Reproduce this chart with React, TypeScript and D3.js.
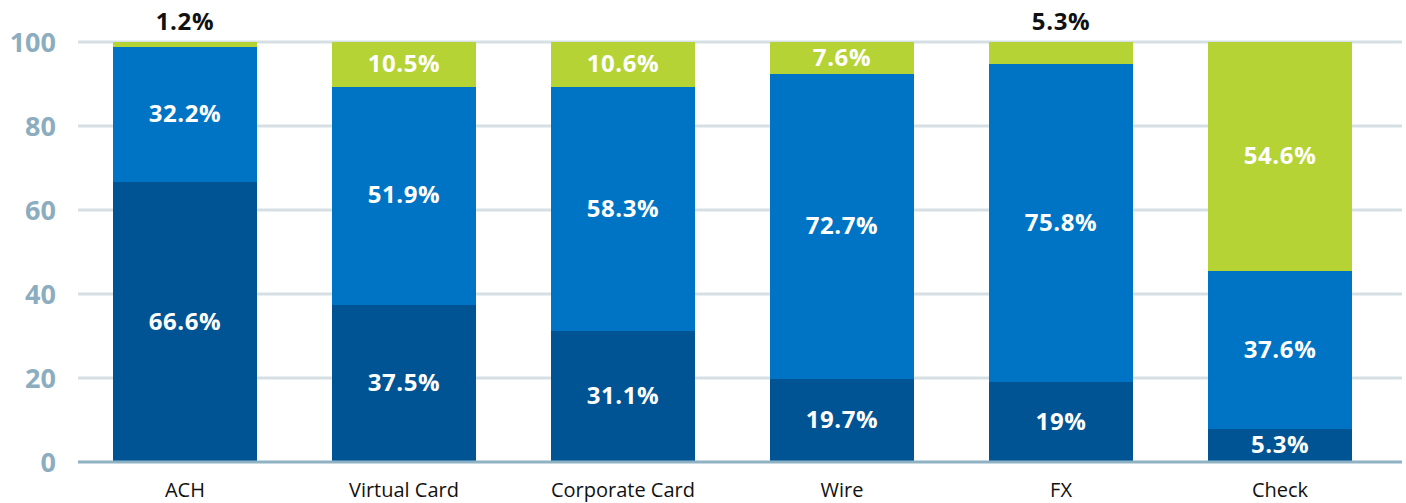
import * as d3 from 'd3';

const categories = ['ACH', 'Virtual Card', 'Corporate Card', 'Wire', 'FX', 'Check'];
const seriesKeys = ['dark', 'mid', 'lime'];
// bar heights as plotted (percent)
const darkValues = [66.6, 37.5, 31.1, 19.7, 19, 7.8];
const midValues = [32.2, 51.9, 58.3, 72.7, 75.8, 37.6];
const limeValues = [1.2, 10.5, 10.6, 7.6, 5.3, 54.6];
// labels as printed
const darkLabels = ['66.6%', '37.5%', '31.1%', '19.7%', '19%', '5.3%'];
const midLabels = ['32.2%', '51.9%', '58.3%', '72.7%', '75.8%', '37.6%'];
const limeLabels = ['1.2%', '10.5%', '10.6%', '7.6%', '5.3%', '54.6%'];
const yTicks = [0, 20, 40, 60, 80, 100];

const colors: Record<string, string> = { dark: '#005494', mid: '#0074c4', lime: '#b5d334' };
const labels: Record<string, string[]> = { dark: darkLabels, mid: midLabels, lime: limeLabels };

const W = 1406;
const H = 503;
const FONT = '"Open Sans", sans-serif';

export default function App() {
  const rows = categories.map((c, i) => ({
    category: c,
    dark: darkValues[i],
    mid: midValues[i],
    lime: limeValues[i],
  }));

  const x = d3.scaleBand().domain(categories).range([75.5, 1389.5]).paddingInner(0.3425).paddingOuter(0.171);
  const y = d3.scaleLinear().domain([0, 100]).range([462, 42]);
  const stacked = d3.stack<any>().keys(seriesKeys)(rows);

  return (
    <svg width={W} height={H} style={{ position: 'absolute', left: 0, top: 0 }}>
      {yTicks.map((t) => (
        <g key={t}>
          {t > 0 && <line x1={78} x2={1402} y1={y(t)} y2={y(t)} stroke="#d6dfe4" strokeWidth={3} />}
          <text
            x={56}
            y={y(t)}
            dy="0.36em"
            textAnchor="end"
            fill="#8badbf"
            fontFamily={FONT}
            fontWeight={700}
            fontSize={27}
          >
            {t}
          </text>
        </g>
      ))}
      {stacked.map((layer) => (
        <g key={layer.key}>
          {layer.map((d, i) => {
            const x0 = x(categories[i]) as number;
            const top = y(d[1]);
            const bot = y(d[0]);
            const h = bot - top;
            const inside = h > 26;
            const label = labels[layer.key][i];
            return (
              <g key={i}>
                <rect
                  x={x0}
                  y={top}
                  width={x.bandwidth()}
                  height={h}
                  fill={colors[layer.key]}
                  shapeRendering="crispEdges"
                />
                <text
                  x={x0 + x.bandwidth() / 2}
                  y={inside ? (top + bot) / 2 - 1 : top - 12}
                  dy={inside ? '0.36em' : '0'}
                  textAnchor="middle"
                  fill={inside ? '#ffffff' : '#111111'}
                  fontFamily={FONT}
                  fontWeight={700}
                  fontSize={24}
                  letterSpacing={0.6}
                >
                  {label}
                </text>
              </g>
            );
          })}
        </g>
      ))}
      <line x1={78} x2={1402} y1={y(0)} y2={y(0)} stroke="#8fb1c4" strokeWidth={3} />
      {categories.map((c) => (
        <text
          key={c}
          x={(x(c) as number) + x.bandwidth() / 2}
          y={497}
          textAnchor="middle"
          fill="#111111"
          fontFamily={FONT}
          fontSize={20}
        >
          {c}
        </text>
      ))}
    </svg>
  );
}
